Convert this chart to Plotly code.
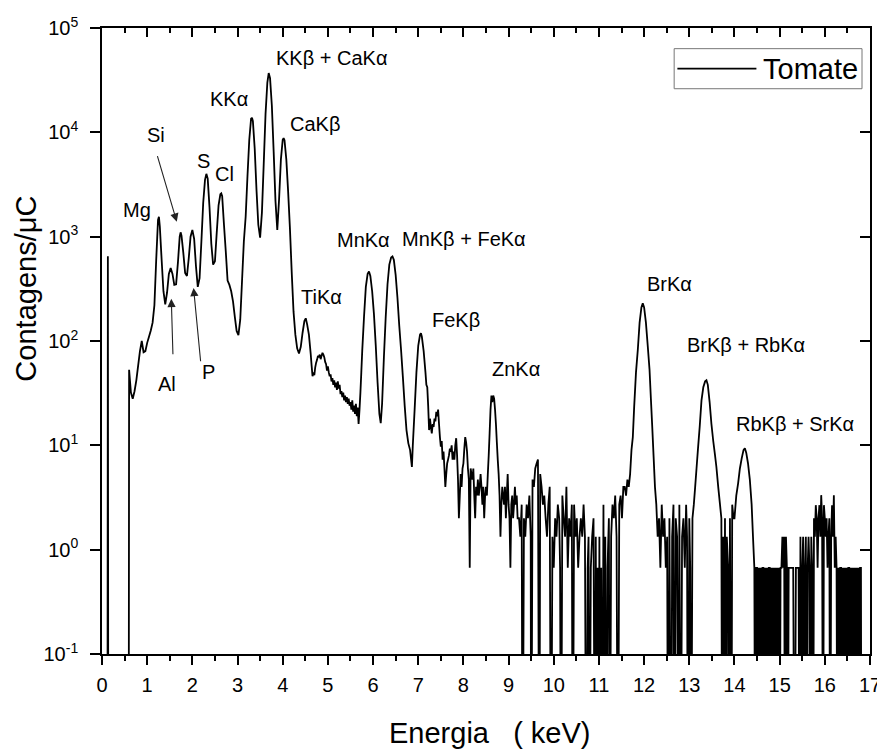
import math
import plotly.graph_objects as go

# ---------------- data: (energy keV, counts/uC) ----------------
LOW_SPIKE = [(0.12, 0), (0.13, 650), (0.14, 0), (0.58, 0)]

LIGHT = [
    (0.59, 0), (0.60, 53), (0.64, 32), (0.68, 28), (0.72, 33), (0.76, 42), (0.80, 58),
    (0.84, 80), (0.88, 100), (0.92, 78), (0.96, 80), (1.00, 96), (1.04, 110), (1.08, 126),
    (1.12, 150), (1.16, 220), (1.20, 600), (1.24, 1450), (1.26, 1550), (1.28, 1250),
    (1.32, 600), (1.36, 300), (1.40, 225), (1.44, 290), (1.48, 440), (1.52, 500),
    (1.56, 440), (1.60, 345), (1.64, 350), (1.68, 560), (1.72, 1000), (1.74, 1100),
    (1.76, 1020), (1.80, 700), (1.84, 450), (1.88, 420), (1.92, 620), (1.96, 1000),
    (2.00, 1160), (2.04, 950), (2.08, 520), (2.12, 330), (2.16, 400), (2.20, 900),
    (2.24, 2100), (2.28, 3500), (2.31, 4000), (2.34, 3600), (2.38, 1900), (2.42, 850),
    (2.46, 540), (2.50, 580), (2.54, 1100), (2.58, 2000), (2.62, 2550), (2.64, 2600),
    (2.66, 2450), (2.70, 1300), (2.74, 720), (2.78, 380), (2.82, 345), (2.86, 300),
    (2.90, 240), (2.94, 170), (2.98, 125), (3.02, 114),
]

K_CA = [
    (3.06, 160), (3.10, 380), (3.14, 900), (3.18, 1550), (3.22, 3800), (3.26, 8500),
    (3.30, 13500), (3.32, 13800), (3.34, 12800), (3.38, 7000), (3.42, 2800), (3.46, 1300),
    (3.50, 980), (3.54, 1700), (3.58, 5000), (3.62, 15000), (3.66, 30000), (3.69, 37000),
    (3.72, 33000), (3.76, 18000), (3.80, 6500), (3.84, 2200), (3.88, 1160), (3.92, 2300),
    (3.96, 5500), (4.00, 8500), (4.02, 8800), (4.04, 8400), (4.08, 5500), (4.12, 2700),
    (4.16, 1200), (4.20, 450), (4.24, 190), (4.28, 115), (4.32, 85), (4.36, 76),
    (4.40, 88), (4.44, 120), (4.48, 155), (4.51, 165), (4.54, 145), (4.58, 115),
]

TI_MN_FE = [
    (4.62, 75), (4.64, 58), (4.66, 46), (4.68, 50), (4.70, 47), (4.72, 56), (4.74, 62),
    (4.76, 66), (4.78, 72), (4.80, 70), (4.82, 74), (4.84, 67), (4.86, 72), (4.88, 77),
    (4.90, 74), (4.92, 70), (4.94, 63), (4.96, 60), (4.98, 52), (5.00, 57), (5.02, 50),
    (5.04, 46), (5.06, 48), (5.08, 41), (5.10, 44), (5.12, 38), (5.14, 42), (5.16, 36),
    (5.18, 40), (5.20, 34), (5.22, 41), (5.24, 35), (5.26, 38), (5.28, 31), (5.30, 33),
    (5.32, 29), (5.34, 32), (5.36, 27), (5.38, 30), (5.40, 26), (5.42, 29), (5.44, 25),
    (5.46, 28), (5.48, 24), (5.50, 26), (5.52, 22), (5.54, 27), (5.56, 21), (5.58, 24),
    (5.60, 20), (5.62, 25), (5.64, 19), (5.66, 23), (5.68, 16), (5.70, 22), (5.72, 32),
    (5.74, 50), (5.76, 80), (5.80, 171), (5.84, 330), (5.88, 440), (5.91, 463),
    (5.94, 420), (5.98, 300), (6.02, 180), (6.06, 90), (6.10, 40), (6.14, 20),
    (6.17, 16.3), (6.20, 25), (6.24, 70), (6.28, 170), (6.32, 350), (6.36, 540),
    (6.40, 630), (6.43, 646), (6.46, 600), (6.50, 430), (6.54, 260), (6.58, 140),
    (6.62, 82), (6.66, 45), (6.70, 24), (6.74, 14), (6.78, 10.5), (6.82, 9), (6.86, 6.2),
    (6.88, 10), (6.92, 22), (6.96, 50), (7.00, 90), (7.04, 115), (7.06, 119),
    (7.08, 110), (7.12, 80),
]

ZN = [
    (7.16, 50), (7.18, 38), (7.20, 36), (7.22, 24), (7.24, 14), (7.26, 18), (7.28, 15),
    (7.30, 13), (7.32, 16), (7.34, 15), (7.36, 18), (7.38, 17), (7.40, 21), (7.42, 19),
    (7.44, 22), (7.46, 16), (7.48, 12), (7.50, 9.7), (7.52, 11), (7.54, 7.3), (7.56, 8.7),
    (7.58, 6), (7.60, 4), (7.62, 5.3), (7.64, 6.7), (7.66, 7.3), (7.68, 8), (7.70, 9.3),
    (7.72, 8.7), (7.74, 10), (7.76, 7.3), (7.78, 8.7), (7.80, 7.3), (7.82, 10),
    (7.84, 11.7), (7.86, 8), (7.88, 4.7), (7.90, 2), (7.92, 3.3), (7.94, 5.3), (7.96, 4),
    (7.98, 6), (8.00, 6.7), (8.02, 9.3), (8.04, 12), (8.06, 10.7), (8.08, 8.7), (8.10, 6),
    (8.12, 4.7), (8.14, 0.67), (8.16, 6), (8.18, 5.3), (8.20, 4.7), (8.22, 6), (8.24, 3.3),
    (8.26, 2), (8.28, 4), (8.30, 3.3), (8.32, 4.7), (8.34, 3.3), (8.36, 4), (8.38, 5.3),
    (8.40, 4), (8.42, 2.7), (8.44, 4), (8.46, 2), (8.48, 3.3), (8.50, 4), (8.52, 3.3),
    (8.54, 5.3), (8.56, 8), (8.58, 13), (8.60, 22), (8.62, 30), (8.64, 26), (8.66, 30),
    (8.68, 28), (8.70, 22), (8.72, 16), (8.74, 10.7), (8.76, 7.3), (8.78, 5.3),
    (8.80, 3.3), (8.82, 1.33), (8.84, 2.7), (8.86, 4), (8.88, 3.3), (8.90, 2.7), (8.92, 4),
    (8.94, 2), (8.96, 3.3), (8.98, 5.3), (9.00, 2.7), (9.02, 2), (9.04, 0.67), (9.06, 2.7),
    (9.08, 3.3), (9.10, 2), (9.12, 2.7), (9.14, 4), (9.16, 2.7), (9.18, 3.3), (9.20, 2),
]

MID_NOISE = [
    (9.23, 2), (9.26, 1.33), (9.29, 2.7), (9.31, 0), (9.34, 2), (9.37, 1.33), (9.40, 2.7),
    (9.43, 2), (9.46, 3.3), (9.49, 1.33), (9.50, 0), (9.53, 4.7), (9.56, 4), (9.59, 6),
    (9.62, 6.7), (9.65, 7.3), (9.68, 0), (9.70, 5.3), (9.73, 4), (9.76, 2.7), (9.79, 3.3),
    (9.82, 2), (9.85, 1.33), (9.88, 2.7), (9.91, 4), (9.94, 0), (9.97, 1.33), (10.00, 0.67),
    (10.03, 2), (10.06, 1.33), (10.09, 2.7), (10.12, 2), (10.14, 0.67), (10.16, 0),
    (10.19, 3.3), (10.22, 2), (10.25, 1.33), (10.28, 4), (10.31, 0.67), (10.34, 2),
    (10.37, 1.33), (10.40, 2.7), (10.42, 0), (10.45, 2.7), (10.48, 1.33), (10.51, 2),
    (10.54, 0.67), (10.57, 1.33), (10.60, 2), (10.63, 1.33), (10.66, 2.7), (10.69, 1.33),
    (10.72, 0), (10.75, 0.67), (10.77, 1.33), (10.79, 0), (10.82, 0.67), (10.85, 1.33),
    (10.88, 2), (10.91, 0), (10.93, 1.33), (10.95, 0), (10.97, 0.67), (10.99, 0),
    (11.01, 1.33), (11.03, 0), (11.05, 0.67), (11.07, 0), (11.10, 2.7), (11.12, 0),
    (11.14, 1.33), (11.17, 0), (11.19, 0.67), (11.22, 2), (11.24, 0), (11.27, 1.33),
    (11.30, 2.7), (11.33, 2), (11.36, 3.3), (11.39, 1.33), (11.42, 0), (11.45, 2.7),
    (11.48, 3.3), (11.51, 2), (11.54, 4),
]

BR = [
    (11.57, 4), (11.60, 3.3), (11.63, 4.7), (11.66, 4), (11.69, 5.3), (11.72, 9),
    (11.75, 12), (11.78, 23.5), (11.82, 50), (11.86, 82), (11.90, 150), (11.94, 210),
    (11.97, 230), (12.00, 210), (12.04, 150), (12.08, 90), (12.12, 53), (12.15, 28),
    (12.18, 15), (12.21, 7.8), (12.24, 4), (12.27, 2.7), (12.30, 1.33), (12.33, 2),
    (12.36, 0.67), (12.39, 2.7), (12.42, 1.33), (12.45, 2), (12.48, 0.67), (12.51, 1.33),
    (12.53, 0), (12.56, 2), (12.60, 0), (12.62, 1.33), (12.65, 2.7), (12.67, 0), (12.70, 2),
    (12.73, 1.33), (12.76, 0), (12.78, 2.7), (12.81, 0), (12.84, 1.33), (12.87, 2),
    (12.90, 0.67), (12.93, 2.7), (12.95, 1.33), (12.97, 0), (13.00, 2), (13.02, 0.67),
    (13.04, 0), (13.07, 2), (13.10, 2.7),
]

RB_SR = [
    (13.13, 4), (13.16, 6), (13.19, 9), (13.23, 15), (13.27, 27), (13.31, 36), (13.35, 41),
    (13.38, 42), (13.41, 38), (13.45, 26), (13.49, 16), (13.53, 11), (13.57, 8),
    (13.60, 6.2), (13.64, 4), (13.68, 2.7), (13.71, 2), (13.73, 0), (13.75, 1.33),
    (13.77, 0), (13.79, 2), (13.81, 0), (13.83, 1.33), (13.86, 0.67), (13.88, 0), (13.90, 2),
    (13.93, 0), (13.95, 2.7), (13.98, 2), (14.00, 2), (14.04, 3.3), (14.08, 4.3), (14.12, 6),
    (14.16, 7.5), (14.20, 9), (14.23, 9.4), (14.26, 8.5), (14.30, 6.7), (14.34, 4.7),
    (14.38, 2.7), (14.41, 1.33), (14.44, 0.67),
]

TAIL = [
    (14.46, 0), (14.48, 0.67), (14.50, 0.67), (14.52, 0), (14.54, 0.67), (14.56, 0),
    (14.58, 0.67), (14.60, 0), (14.62, 0.67), (14.64, 0.67), (14.66, 0), (14.68, 0.67),
    (14.70, 0), (14.72, 0.67), (14.74, 0), (14.76, 0.67), (14.78, 0.67), (14.80, 0),
    (14.82, 0.67), (14.84, 0), (14.86, 0.67), (14.88, 0), (14.90, 0.67), (14.92, 0),
    (14.94, 0.67), (14.96, 0), (14.98, 0.67), (15.00, 0), (15.02, 0.67), (15.04, 0.67),
    (15.06, 1.33), (15.08, 0.67), (15.10, 1.33), (15.12, 0), (15.14, 1.33), (15.16, 0.67),
    (15.18, 0), (15.20, 0.67), (15.22, 0.67), (15.24, 0.67), (15.27, 0.67), (15.30, 0.67),
    (15.33, 0), (15.36, 0.67), (15.39, 0.67), (15.42, 0.67), (15.44, 0), (15.46, 1.33),
    (15.48, 0), (15.50, 0.67), (15.52, 1.33), (15.54, 0), (15.56, 0.67), (15.58, 1.33),
    (15.60, 0), (15.62, 0.67), (15.64, 1.33), (15.66, 0.67), (15.68, 0), (15.70, 1.33),
    (15.72, 0.67), (15.74, 0), (15.76, 2), (15.78, 1.33), (15.80, 2.67), (15.82, 2),
    (15.84, 0.67), (15.86, 2), (15.88, 2.67), (15.90, 1.33), (15.92, 3.33), (15.94, 2),
    (15.96, 0), (15.98, 2.67), (16.00, 2), (16.02, 1.33), (16.04, 2), (16.06, 0.67),
    (16.08, 1.33), (16.10, 2), (16.12, 0), (16.14, 1.33), (16.16, 2.67), (16.18, 1.33),
    (16.20, 3.33), (16.22, 0.67), (16.24, 1.33), (16.26, 0.67), (16.28, 0), (16.30, 0.67),
    (16.32, 0), (16.34, 0.67), (16.36, 0.67), (16.38, 0), (16.40, 0.67), (16.42, 0),
    (16.44, 0.67), (16.46, 0), (16.48, 0.67), (16.50, 0), (16.52, 0.67), (16.54, 0.67),
    (16.56, 0), (16.58, 0.67), (16.60, 0), (16.62, 0.67), (16.64, 0), (16.66, 0.67),
    (16.68, 0), (16.70, 0.67), (16.72, 0), (16.74, 0.67), (16.76, 0), (16.78, 0.67),
    (16.80, 0.67), (16.81, 0),
]

SERIES_NAME = "Tomate"
X_TICKS = list(range(0, 18))
Y_TICK_VALUES = [0.1, 1, 10, 100, 1000, 10000, 100000]
Y_TICK_TEXT = ["10<sup>-1</sup>", "10<sup>0</sup>", "10<sup>1</sup>", "10<sup>2</sup>",
               "10<sup>3</sup>", "10<sup>4</sup>", "10<sup>5</sup>"]

# peak labels: (text, energy keV, counts/uC at label centre)
PEAK_LABELS = [
    ("Mg", 0.78, 1815), ("Si", 1.20, 9500), ("S", 2.24, 5280), ("Cl", 2.72, 3970),
    ("KKα", 2.82, 20650), ("KKβ + CaKα", 5.07, 51200), ("CaKβ", 4.72, 12050),
    ("TiKα", 4.85, 263), ("MnKα", 5.78, 935), ("MnKβ + FeKα", 8.02, 957),
    ("FeKβ", 7.84, 158), ("ZnKα", 9.17, 53.7), ("BrKα", 12.57, 350),
    ("BrKβ + RbKα", 14.26, 92), ("RbKβ + SrKα", 15.34, 16), ("Al", 1.43, 38.5),
    ("P", 2.36, 50.2),
]
# arrows: (tip energy, tip counts, tail energy, tail counts)
ARROWS = [
    (1.655, 1393, 1.217, 6110),   # Si
    (1.534, 254, 1.571, 72.3),    # Al
    (2.027, 322, 2.186, 61.9),    # P
]

# ---------------- build ----------------
spectrum = LOW_SPIKE + LIGHT + K_CA + TI_MN_FE + ZN + MID_NOISE + BR + RB_SR + TAIL
energy = [e for e, _ in spectrum]
counts = [c for _, c in spectrum]
FLOOR = 1e-3  # zero-count channels drawn down past the axis (log scale)
plot_counts = [c if c > 0 else FLOOR for c in counts]

FONT = "Liberation Sans, Arial, Helvetica, sans-serif"

fig = go.Figure()
fig.add_trace(go.Scatter(
    x=energy, y=plot_counts, mode="lines", name=SERIES_NAME,
    line=dict(color="black", width=1.8, simplify=False), showlegend=False,
))
fig.add_trace(go.Scatter(
    x=energy, y=plot_counts, mode="lines", xaxis="x2", yaxis="y2",
    line=dict(color="rgba(0,0,0,0)", width=0), hoverinfo="skip", showlegend=False,
))

axis_common = dict(showline=True, linecolor="black", linewidth=1.6, showgrid=False,
                   zeroline=False, tickcolor="black", tickwidth=1.5, automargin=False)

# the page body adds an 8px margin, so the figure is sized to end at the window edge
fig.update_layout(
    width=877, height=741,
    margin=dict(l=94, r=15, t=20, b=95, autoexpand=False),
    paper_bgcolor="white", plot_bgcolor="white",
    font=dict(family=FONT, color="black"),
    xaxis=dict(range=[0, 17], tickvals=X_TICKS, ticks="outside", ticklen=9,
               tickfont=dict(size=20, family=FONT), ticklabelstandoff=3,
               minor=dict(dtick=0.5, tick0=0, ticks="outside", ticklen=5,
                          tickwidth=1.5, tickcolor="black", showgrid=False),
               **axis_common),
    xaxis2=dict(range=[0, 17], overlaying="x", side="top", tickvals=X_TICKS,
                ticks="inside", ticklen=9, showticklabels=False,
                minor=dict(dtick=0.5, tick0=0, ticks="inside", ticklen=5,
                           tickwidth=1.5, tickcolor="black", showgrid=False),
                **axis_common),
    yaxis=dict(type="log", range=[-1, 5], tickvals=Y_TICK_VALUES, ticktext=Y_TICK_TEXT,
               ticks="outside", ticklen=10, tickfont=dict(size=20, family=FONT),
               ticklabelstandoff=8, **axis_common),
    yaxis2=dict(type="log", range=[-1, 5], overlaying="y", side="right",
                tickvals=Y_TICK_VALUES, ticks="inside", ticklen=10,
                showticklabels=False, **axis_common),
)

ann = []
for text, e, c in PEAK_LABELS:
    ann.append(dict(x=e, y=math.log10(c), xref="x", yref="y", text=text, showarrow=False,
                    xanchor="center", yanchor="middle", font=dict(size=20, family=FONT)))
for te, tc, ae, ac in ARROWS:
    ann.append(dict(x=te, y=math.log10(tc), ax=ae, ay=math.log10(ac), xref="x", yref="y",
                    axref="x", ayref="y", text="", showarrow=True, arrowhead=2,
                    arrowsize=1.5, arrowwidth=1.1, arrowcolor="#222"))
# axis titles
ann.append(dict(x=0.504, y=-0.126, xref="paper", yref="paper",
                text="Energia\u00a0\u00a0\u00a0(\u00a0keV)",
                showarrow=False, xanchor="center", yanchor="middle",
                font=dict(size=29, family=FONT)))
ann.append(dict(x=-0.0995, y=0.583, xref="paper", yref="paper", text="Contagens/μC",
                showarrow=False, xanchor="center", yanchor="middle", textangle=-90,
                font=dict(size=29, family=FONT)))
# legend
ann.append(dict(x=0.858, y=0.935, xref="paper", yref="paper", text=SERIES_NAME,
                showarrow=False, xanchor="left", yanchor="middle",
                font=dict(size=29, family=FONT)))
fig.update_layout(annotations=ann)
fig.add_shape(type="rect", xref="paper", yref="paper", x0=0.745, x1=0.9896,
              y0=0.903, y1=0.967, line=dict(color="#777", width=1), fillcolor="white",
              layer="above")
fig.add_shape(type="line", xref="paper", yref="paper", x0=0.7492, x1=0.8521,
              y0=0.935, y1=0.935, line=dict(color="black", width=1.8))

fig.write_html("out.html")
